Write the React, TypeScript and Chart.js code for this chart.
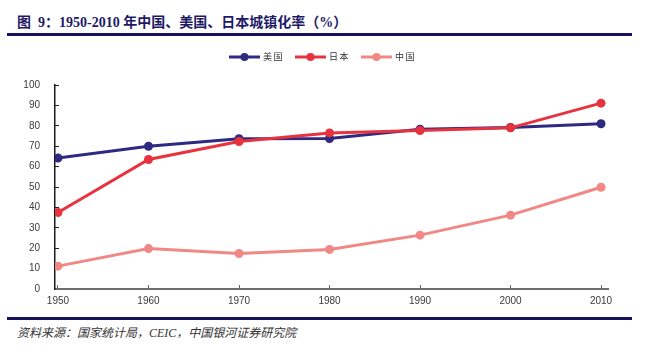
import React, { useEffect, useRef } from "react";
import { Chart, registerables } from "chart.js";

Chart.register(...registerables);

const years = [1950, 1960, 1970, 1980, 1990, 2000, 2010];
const usa = [64.2, 70.0, 73.7, 73.8, 78.3, 79.2, 81.0];
const japan = [37.5, 63.5, 72.3, 76.5, 77.7, 79.0, 91.1];
const china = [11.2, 19.8, 17.4, 19.4, 26.4, 36.2, 49.9];
const seriesNames = ["美国", "日本", "中国"];
const yTicks = [0, 10, 20, 30, 40, 50, 60, 70, 80, 90, 100];

const colors = ["#2E2A82", "#E8323D", "#F08886"];

const legendPlugin = {
  id: "customLegend",
  afterDraw(chart: any) {
    const ctx = chart.ctx as CanvasRenderingContext2D;
    const ds = chart.data.datasets;
    const y = 17;
    let x = 229;
    ctx.save();
    ds.forEach((d: any) => {
      ctx.strokeStyle = d.borderColor;
      ctx.lineWidth = 3;
      ctx.beginPath();
      ctx.moveTo(x, y);
      ctx.lineTo(x + 31, y);
      ctx.stroke();
      ctx.fillStyle = d.borderColor;
      ctx.beginPath();
      ctx.arc(x + 15.5, y, 4, 0, Math.PI * 2);
      ctx.fill();
      ctx.fillStyle = "#333";
      ctx.font = '9px "Noto Sans CJK SC"';
      ctx.textBaseline = "middle";
      ctx.textAlign = "left";
      const chars = Array.from(d.label as string);
      chars.forEach((c, i) => ctx.fillText(c, x + 34 + i * 10.5, y));
      x += 66;
    });
    ctx.restore();
  },
};

export default function App() {
  const ref = useRef<HTMLCanvasElement | null>(null);
  useEffect(() => {
    if (!ref.current) return;
    const mk = (label: string, data: number[], color: string, order: number) => ({
      label,
      data: years.map((yr, i) => ({ x: yr, y: data[i] })),
      borderColor: color,
      backgroundColor: color,
      borderWidth: 3,
      pointRadius: 4.5,
      pointBackgroundColor: color,
      pointBorderWidth: 0,
      tension: 0,
      order,
    });
    const chart = new Chart(ref.current, {
      type: "line",
      data: {
        datasets: [
          mk(seriesNames[0], usa, colors[0], 1),
          mk(seriesNames[1], japan, colors[1], 0),
          mk(seriesNames[2], china, colors[2], 2),
        ],
      },
      options: {
        animation: false,
        responsive: false,
        devicePixelRatio: 1,
        layout: { padding: { top: 45, right: 42, left: 0, bottom: 0 } },
        plugins: { legend: { display: false }, tooltip: { enabled: false } },
        scales: {
          x: {
            type: "linear",
            min: 1949.67,
            max: 2010.77,
            afterFit: (s: any) => {
              s.height = 26;
            },
            afterBuildTicks: (s: any) => {
              s.ticks = years.map((v) => ({ value: v }));
            },
            grid: { display: true, drawOnChartArea: false, tickLength: -4, color: "#666", lineWidth: 1 },
            border: { display: true, color: "#6E6E6E", width: 2 },
            ticks: {
              padding: 10,
              color: "#3a3a3a",
              font: { family: '"Liberation Sans", Arial', size: 10 },
              callback: (v: any) => String(v),
              maxRotation: 0,
            },
          },
          y: {
            min: 0,
            max: 100,
            afterFit: (s: any) => {
              s.width = 55;
            },
            afterBuildTicks: (s: any) => {
              s.ticks = yTicks.map((v) => ({ value: v }));
            },
            grid: { display: true, drawOnChartArea: false, tickLength: -4, color: "#222", lineWidth: 1 },
            border: { display: true, color: "#1A1A1A", width: 1.5 },
            ticks: {
              padding: 19,
              color: "#3a3a3a",
              font: { family: '"Liberation Sans", Arial', size: 10 },
            },
          },
        },
      },
      plugins: [legendPlugin],
    } as any);
    return () => chart.destroy();
  }, []);

  return (
    <div style={{ position: "fixed", left: 0, top: 0, width: 650, height: 358, background: "#fff", overflow: "hidden" }}>
      <div
        style={{
          position: "absolute",
          left: 17,
          top: 13,
          fontFamily: '"Liberation Serif", "Noto Sans CJK SC", serif',
          fontWeight: "bold",
          fontSize: 14,
          lineHeight: "20px",
          color: "#1E1A66",
          whiteSpace: "nowrap",
        }}
      >
        图&nbsp;&nbsp;9：1950-2010 年中国、美国、日本城镇化率（%）
      </div>
      <div style={{ position: "absolute", left: 7, top: 33, width: 625, height: 3, background: "#16125E" }} />
      <canvas ref={ref} width={650} height={275} style={{ position: "absolute", left: 0, top: 40 }} />
      <div style={{ position: "absolute", left: 7, top: 317, width: 625, height: 3, background: "#16125E" }} />
      <div
        style={{
          position: "absolute",
          left: 17,
          top: 324,
          fontFamily: '"Liberation Serif", "Noto Sans CJK SC", serif',
          fontStyle: "italic",
          fontSize: 12,
          lineHeight: "18px",
          color: "#333",
          whiteSpace: "nowrap",
        }}
      >
        资料来源：国家统计局，CEIC，中国银河证券研究院
      </div>
    </div>
  );
}
